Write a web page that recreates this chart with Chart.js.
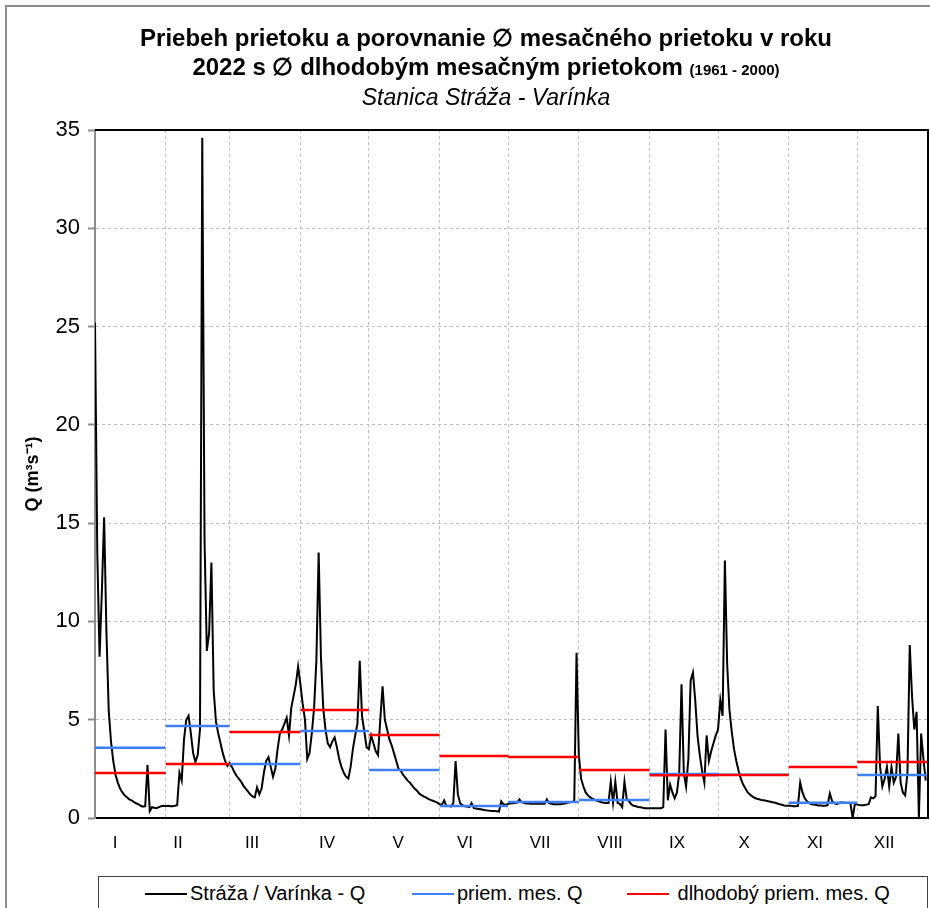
<!DOCTYPE html>
<html>
<head>
<meta charset="utf-8">
<script src="https://cdn.jsdelivr.net/npm/chart.js@4/dist/chart.umd.min.js"></script>
<style>
body { margin: 0; background: #fff; font-family: "Liberation Sans", Arial, sans-serif; }
#wrap { position: relative; width: 930px; height: 908px; overflow: hidden; }
#frame { position: absolute; left: 5px; top: 5px; width: 960px; height: 960px; border: 2px solid #8c8c8c; }
#title { position: absolute; left: 0; top: 23px; width: 972px; text-align: center; color: #000; }
#title .l1, #title .l2 { font-weight: bold; font-size: 24px; line-height: 29px; }
#title .small { font-size: 15px; }
#title .l3 { font-style: italic; font-size: 23px; line-height: 26px; }
#chart { position: absolute; left: 0; top: 0; }
#legend { position: absolute; left: 98px; top: 876px; width: 828px; height: 60px; border: 1px solid #404040; background: #fff; }
.item { position: absolute; top: 5px; font-size: 20px; line-height: 23px; white-space: nowrap; }
.item span { display: inline-block; width: 42px; height: 2px; vertical-align: middle; margin-right: 3px; position: relative; top: -1px; }
</style>
</head>
<body>
<div id="wrap">
  <div id="frame"></div>
  <canvas id="chart" width="930" height="908"></canvas>
  <div id="title">
    <div class="l1">Priebeh prietoku a porovnanie ∅ mesačného prietoku v roku</div>
    <div class="l2">2022 s ∅ dlhodobým mesačným prietokom <span class="small">(1961 - 2000)</span></div>
    <div class="l3">Stanica Stráža - Varínka</div>
  </div>
  <div id="legend">
    <div class="item" style="left:46px"><span style="background:#000"></span>Stráža / Varínka - Q</div>
    <div class="item" style="left:313px"><span style="background:#3f7ff5"></span>priem. mes. Q</div>
    <div class="item" style="left:528px"><span style="background:#ff0000"></span>&nbsp;dlhodobý priem. mes. Q</div>
  </div>
</div>
<script>
// month setup
var monthNames = ['I', 'II', 'III', 'IV', 'V', 'VI', 'VII', 'VIII', 'IX', 'X', 'XI', 'XII'];
var monthDays = [31, 28, 31, 30, 31, 30, 31, 31, 30, 31, 30, 31];
var monthLabelPos = [8.8, 36.4, 68.8, 101.7, 132.8, 162.1, 195, 225.7, 255, 284.4, 315.5, 345.8];

// daily flow Q (m3/s), station Stráža - Varínka 2022
var janQ = [25.2, 13.5, 8.2, 11.5, 15.3, 9.5, 5.5, 3.9, 2.9, 2.2, 1.8, 1.5, 1.3, 1.15, 1.05, 0.95, 0.9, 0.82, 0.75, 0.7, 0.62, 0.58, 0.6, 2.7, 0.35, 0.55, 0.52, 0.5, 0.55, 0.6, 0.62];
var febQ = [0.6, 0.62, 0.6, 0.6, 0.62, 0.65, 2.3, 1.9, 4.0, 5.0, 5.2, 4.3, 3.3, 2.85, 3.2, 4.5, 34.6, 14.1, 8.5, 9.4, 13.0, 6.5, 4.9, 4.3, 3.8, 3.3, 2.9, 2.65];
var marQ = [2.8, 2.6, 2.35, 2.15, 2.0, 1.85, 1.65, 1.5, 1.35, 1.2, 1.1, 1.05, 1.55, 1.2, 1.5, 2.3, 2.9, 3.1, 2.6, 2.1, 2.5, 3.5, 4.3, 4.5, 4.8, 5.1, 4.2, 5.6, 6.2, 6.8, 7.7];
var aprQ = [6.8, 5.8, 5.0, 3.0, 3.3, 4.3, 5.6, 8.0, 13.5, 8.2, 5.6, 4.5, 3.8, 3.6, 3.9, 4.1, 3.6, 3.0, 2.6, 2.3, 2.1, 2.0, 2.6, 3.5, 4.2, 4.8, 8.0, 5.2, 4.4, 3.6];
var mayQ = [3.5, 4.2, 3.8, 3.4, 3.2, 5.0, 6.7, 5.0, 4.5, 4.0, 3.7, 3.3, 2.9, 2.5, 2.4, 2.2, 2.05, 1.9, 1.8, 1.65, 1.5, 1.4, 1.25, 1.17, 1.1, 1.05, 0.97, 0.92, 0.88, 0.83, 0.78];
var junQ = [0.7, 0.68, 0.9, 0.6, 0.62, 0.58, 0.75, 2.9, 1.2, 0.75, 0.65, 0.6, 0.58, 0.55, 0.75, 0.5, 0.48, 0.46, 0.44, 0.42, 0.4, 0.38, 0.37, 0.36, 0.35, 0.34, 0.32, 0.85, 0.7, 0.68];
var julQ = [0.72, 0.74, 0.75, 0.76, 0.78, 0.95, 0.8, 0.76, 0.74, 0.74, 0.73, 0.72, 0.72, 0.72, 0.72, 0.72, 0.72, 0.95, 0.75, 0.72, 0.7, 0.7, 0.7, 0.7, 0.72, 0.74, 0.78, 0.8, 0.82, 0.85, 8.4];
var augQ = [3.2, 2.0, 1.6, 1.3, 1.15, 1.05, 0.98, 0.92, 0.88, 0.84, 0.8, 0.78, 0.76, 0.76, 1.85, 0.78, 1.85, 0.76, 0.72, 0.55, 1.85, 0.95, 0.85, 0.7, 0.62, 0.6, 0.56, 0.55, 0.52, 0.5, 0.5];
var sepQ = [0.5, 0.5, 0.5, 0.5, 0.5, 0.5, 0.55, 4.5, 0.9, 1.7, 1.3, 1.0, 1.3, 2.3, 6.8, 2.3, 1.6, 3.0, 7.0, 7.4, 6.0, 4.2, 3.2, 2.4, 1.8, 4.2, 2.9, 3.4, 3.8, 4.2];
var octQ = [4.5, 6.0, 5.2, 13.1, 7.8, 5.5, 4.4, 3.5, 2.9, 2.4, 2.0, 1.7, 1.5, 1.3, 1.2, 1.1, 1.03, 0.98, 0.95, 0.92, 0.9, 0.88, 0.85, 0.83, 0.8, 0.78, 0.74, 0.7, 0.67, 0.64, 0.62];
var novQ = [0.62, 0.62, 0.6, 0.6, 0.62, 1.8, 1.3, 1.0, 0.85, 0.75, 0.7, 0.68, 0.66, 0.64, 0.63, 0.62, 0.62, 0.65, 1.25, 0.85, 0.75, 0.72, 0.75, 0.8, 0.78, 0.76, 0.78, 0.75, 0.0, 0.75];
var decQ = [0.68, 0.66, 0.65, 0.65, 0.68, 0.7, 1.05, 1.0, 1.1, 5.7, 2.6, 1.6, 2.0, 2.6, 1.6, 2.6, 1.8, 2.1, 4.3, 1.8, 1.3, 1.15, 2.3, 8.8, 6.2, 4.5, 5.4, 0, 4.3, 3.0, 1.9];

// monthly means 2022 and long-term means 1961-2000
var monthMeanQ = [3.58, 4.68, 2.75, 4.43, 2.44, 0.61, 0.81, 0.92, 2.24, 2.2, 0.77, 2.19];
var longTermQ = [2.29, 2.75, 4.37, 5.49, 4.22, 3.15, 3.1, 2.44, 2.17, 2.19, 2.6, 2.85];

var flowQ = [].concat(janQ, febQ, marQ, aprQ, mayQ, junQ, julQ, augQ, sepQ, octQ, novQ, decQ);
var flowData = flowQ.map(function (v, i) { return { x: i, y: v }; });

var monthStart = [0];
monthDays.forEach(function (n, i) { monthStart.push(monthStart[i] + n); });

function stepData(vals) {
    var pts = [];
    vals.forEach(function (v, i) {
        pts.push({ x: monthStart[i], y: v }, { x: monthStart[i + 1], y: v }, { x: monthStart[i + 1], y: null });
    });
    return pts;
}

var plotFrame = {
    id: 'plotFrame',
    afterDraw: function (chart) {
        var a = chart.chartArea, c = chart.ctx;
        c.save();
        c.strokeStyle = '#000';
        c.lineWidth = 2;
        c.beginPath();
        c.moveTo(a.left, a.top);
        c.lineTo(a.right, a.top);
        c.lineTo(a.right, a.bottom);
        c.stroke();
        c.restore();
    }
};

var ctx = document.getElementById('chart').getContext('2d');
new Chart(ctx, {
    type: 'line',
    data: {
        datasets: [{
            label: 'Stráža / Varínka - Q',
            data: flowData,
            borderColor: '#000',
            borderWidth: 2,
            pointRadius: 0,
            order: 3
        }, {
            label: 'priem. mes. Q',
            data: stepData(monthMeanQ),
            borderColor: '#3f7ff5',
            borderWidth: 2.5,
            pointRadius: 0,
            spanGaps: false,
            order: 2
        }, {
            label: 'dlhodobý priem. mes. Q',
            data: stepData(longTermQ),
            borderColor: '#ff0000',
            borderWidth: 2.5,
            pointRadius: 0,
            spanGaps: false,
            order: 1
        }]
    },
    options: {
        responsive: false,
        animation: false,
        events: [],
        layout: { padding: { top: 130, right: 2, left: 0, bottom: 0 } },
        plugins: { legend: { display: false }, title: { display: false }, tooltip: { enabled: false } },
        scales: {
            x: {
                type: 'linear',
                min: 0,
                max: 365,
                afterBuildTicks: function (scale) {
                    var t = monthStart.map(function (v) { return { value: v }; });
                    monthLabelPos.forEach(function (v) { t.push({ value: v }); });
                    scale.ticks = t;
                },
                afterFit: function (scale) { scale.height = 90; },
                ticks: {
                    autoSkip: false,
                    maxRotation: 0,
                    padding: 15,
                    color: '#000',
                    font: { family: 'Liberation Sans', size: 17 },
                    callback: function (value) {
                        var k = monthLabelPos.indexOf(value);
                        return k >= 0 ? monthNames[k] : '';
                    }
                },
                grid: {
                    drawTicks: false,
                    lineWidth: 1,
                    color: function (c) {
                        return monthStart.indexOf(c.tick && c.tick.value) >= 0 ? '#bdbdbd' : 'rgba(0,0,0,0)';
                    }
                },
                border: { color: '#000', width: 2, dash: [3, 3] }
            },
            y: {
                min: 0,
                max: 35,
                afterFit: function (scale) { scale.width = 95; },
                ticks: {
                    stepSize: 5,
                    padding: 8,
                    color: '#000',
                    font: { family: 'Liberation Sans', size: 22 }
                },
                grid: {
                    color: '#bdbdbd',
                    lineWidth: 1,
                    tickLength: 7,
                    tickColor: '#8c8c8c',
                    tickWidth: 2
                },
                border: { color: '#8c8c8c', width: 2, dash: [3, 3] },
                title: {
                    display: true,
                    text: 'Q (m³s⁻¹)',
                    color: '#000',
                    font: { family: 'Liberation Sans', size: 18, weight: 'bold' },
                    padding: { top: 22, bottom: 0 }
                }
            }
        }
    },
    plugins: [plotFrame]
});
</script>
</body>
</html>
